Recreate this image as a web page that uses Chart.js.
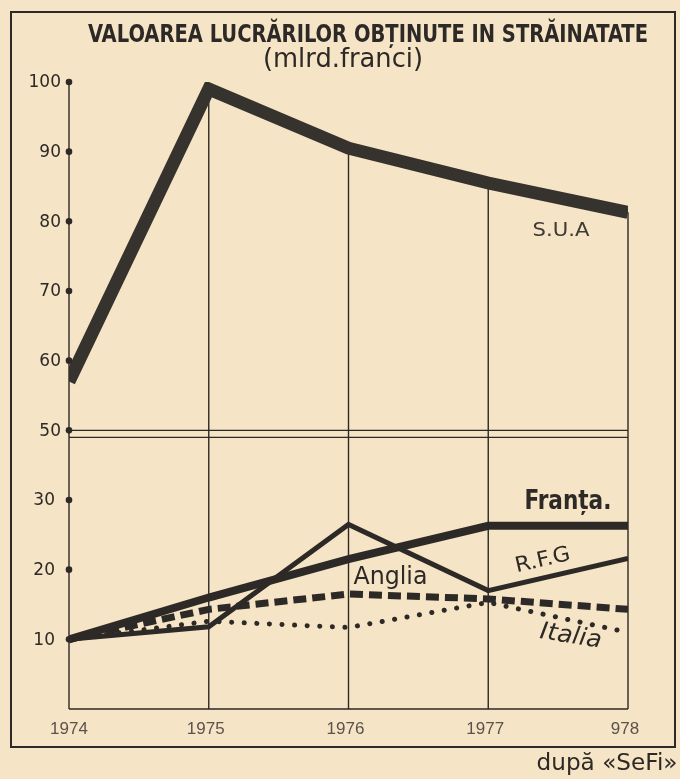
<!DOCTYPE html>
<html>
<head>
<meta charset="utf-8">
<script src="https://cdn.jsdelivr.net/npm/chart.js@4.4.1/dist/chart.umd.min.js"></script>
<style>
html,body{margin:0;padding:0;background:#f5e4c5;}
canvas{display:block;}
</style>
</head>
<body>
<canvas id="c" width="680" height="779"></canvas>
<script>
// ---- data ----
const years   = [1974, 1975, 1976, 1977, 1978];
const xLabels = ['1974', '1975', '1976', '1977', '978'];
const sua     = [57, 99, 90.5, 85.5, 81.3];
const franta  = [10, 16, 21.5, 26.3, 26.3];
const rfg     = [10, 11.8, 26.5, 17, 21.6];
const anglia  = [10, 14.3, 16.5, 15.8, 14.3];
const italia  = [10, 12.6, 11.7, 15.3, 11];
const upperTicks = [50, 60, 70, 80, 90, 100];
const lowerTicks = [10, 20, 30];
const BREAK_OFFSET = 10; // broken axis: values >= 50 are drawn 10 units lower

const INK = '#2d2926';
const PAPER = '#f5e4c5';

function toT(v){ return v >= 50 ? v - BREAK_OFFSET : v; }
function pts(arr){ return arr.map((v,i)=>({x: years[i], y: toT(v)})); }

function drawText(ctx, s, cx, cy, font, color, width, rot, baseline){
  ctx.save();
  ctx.font = font;
  ctx.fillStyle = color;
  ctx.textAlign = 'center';
  ctx.textBaseline = baseline || 'middle';
  ctx.translate(cx, cy);
  if (rot) ctx.rotate(rot * Math.PI / 180);
  if (width){
    const m = ctx.measureText(s).width;
    ctx.scale(width / m, 1);
  }
  ctx.fillText(s, 0, 0);
  ctx.restore();
}
function line(ctx, x1, y1, x2, y2){
  ctx.beginPath(); ctx.moveTo(x1, y1); ctx.lineTo(x2, y2); ctx.stroke();
}

const paper = {
  id: 'paper',
  beforeDraw(chart){
    const ctx = chart.ctx;
    ctx.save();
    ctx.fillStyle = PAPER;
    ctx.fillRect(0, 0, chart.width, chart.height);
    ctx.restore();
  },
  beforeDatasetsDraw(chart){
    const {ctx, scales:{x, y}} = chart;
    const ax = x.getPixelForValue(years[0]);
    const right = x.getPixelForValue(years[years.length-1]);
    const bottom = y.getPixelForValue(0);
    const yBreak = y.getPixelForValue(toT(upperTicks[0]));
    ctx.save();
    ctx.strokeStyle = INK;
    // outer frame
    ctx.lineWidth = 2;
    ctx.strokeRect(11, 12, 664, 735);
    ctx.lineWidth = 1.4;
    // y axis
    line(ctx, ax, y.getPixelForValue(toT(upperTicks[upperTicks.length-1])), ax, bottom);
    // vertical year lines, from the S.U.A line down
    for (let i = 1; i < years.length; i++){
      const px = x.getPixelForValue(years[i]);
      line(ctx, px, y.getPixelForValue(toT(sua[i])), px, bottom);
    }
    // break lines and bottom
    line(ctx, ax, yBreak, right, yBreak);
    line(ctx, ax, yBreak + 7, right, yBreak + 7);
    line(ctx, ax, bottom, right, bottom);
    ctx.restore();
  },
  afterDatasetsDraw(chart){
    const {ctx, scales:{x, y}} = chart;
    const ax = x.getPixelForValue(years[0]);
    ctx.save();
    ctx.fillStyle = INK;
    // tick dots
    upperTicks.concat(lowerTicks).forEach(v=>{
      ctx.beginPath();
      ctx.arc(ax, y.getPixelForValue(toT(v)), 3.3, 0, Math.PI*2);
      ctx.fill();
    });
    // y tick labels
    ctx.font = '17px "DejaVu Sans"';
    ctx.textAlign = 'right';
    ctx.textBaseline = 'middle';
    upperTicks.forEach(v=> ctx.fillText(String(v), ax - 8, y.getPixelForValue(toT(v)) + 1));
    lowerTicks.forEach(v=> ctx.fillText(String(v), ax - 14, y.getPixelForValue(toT(v)) + 1));
    // x labels
    ctx.fillStyle = '#5a534c';
    ctx.font = '17px "Liberation Sans"';
    ctx.textAlign = 'center';
    years.forEach((yr,i)=> ctx.fillText(xLabels[i], x.getPixelForValue(yr) - (i===0?0:3), y.getPixelForValue(0) + 20));
    ctx.restore();

    // series labels
    drawText(ctx, 'S.U.A', x.getPixelForValue(1977.52), y.getPixelForValue(toT(84)) + 37, '20px "DejaVu Sans"', '#3f3a35', 57);
    drawText(ctx, 'Franța.', x.getPixelForValue(1977.57), y.getPixelForValue(franta[4]) - 24, 'bold 26px "DejaVu Sans Condensed", "DejaVu Sans"', INK, 87);
    drawText(ctx, 'R.F.G', x.getPixelForValue(1977.39), y.getPixelForValue(19) - 16, '21px "DejaVu Sans"', INK, 56, -13);
    drawText(ctx, 'Anglia', x.getPixelForValue(1976.3), y.getPixelForValue(anglia[2]) - 17, '25px "DejaVu Sans Condensed", "DejaVu Sans"', INK, 74);
    drawText(ctx, 'Italia', x.getPixelForValue(1977.59), y.getPixelForValue(13.4) + 21, 'italic 24px "DejaVu Sans Condensed", "DejaVu Sans"', INK, 62, 9);

    // title
    drawText(ctx, 'VALOAREA LUCRĂRILOR OBȚINUTE IN STRĂINATATE', 368, 42, 'bold 24px "DejaVu Sans Condensed", "DejaVu Sans"', INK, 560, 0, 'alphabetic');
    drawText(ctx, '(mlrd.franci)', 343, 67, '26px "DejaVu Sans"', INK, 160, 0, 'alphabetic');
    // source
    drawText(ctx, 'după «SeFi»', 607, 770, '23px "DejaVu Sans"', INK, 141, 0, 'alphabetic');
  }
};

const common = {fill:false, pointRadius:0, pointHoverRadius:0, tension:0, borderColor:INK, borderJoinStyle:'miter'};

new Chart(document.getElementById('c'), {
  type: 'line',
  data: {
    datasets: [
      Object.assign({label:'S.U.A', data: pts(sua), borderWidth: 13}, common, {borderColor:'#36322e'}),
      Object.assign({label:'Franța', data: pts(franta), borderWidth: 8}, common),
      Object.assign({label:'R.F.G', data: pts(rfg), borderWidth: 5}, common),
      Object.assign({label:'Anglia', data: pts(anglia), borderWidth: 7, borderDash:[13,6]}, common),
      Object.assign({label:'Italia', data: pts(italia), borderWidth: 5, borderDash:[0.1,12.5], borderCapStyle:'round'}, common)
    ]
  },
  options: {
    responsive: false,
    animation: false,
    devicePixelRatio: 1,
    layout: {padding: {left: 69, right: 52, top: 82, bottom: 70}},
    plugins: {legend:{display:false}, title:{display:false}, tooltip:{enabled:false}},
    scales: {
      x: {type:'linear', min: years[0], max: years[years.length-1], display:false},
      y: {type:'linear', min: 0, max: toT(upperTicks[upperTicks.length-1]), display:false}
    }
  },
  plugins: [paper]
});
</script>
</body>
</html>
